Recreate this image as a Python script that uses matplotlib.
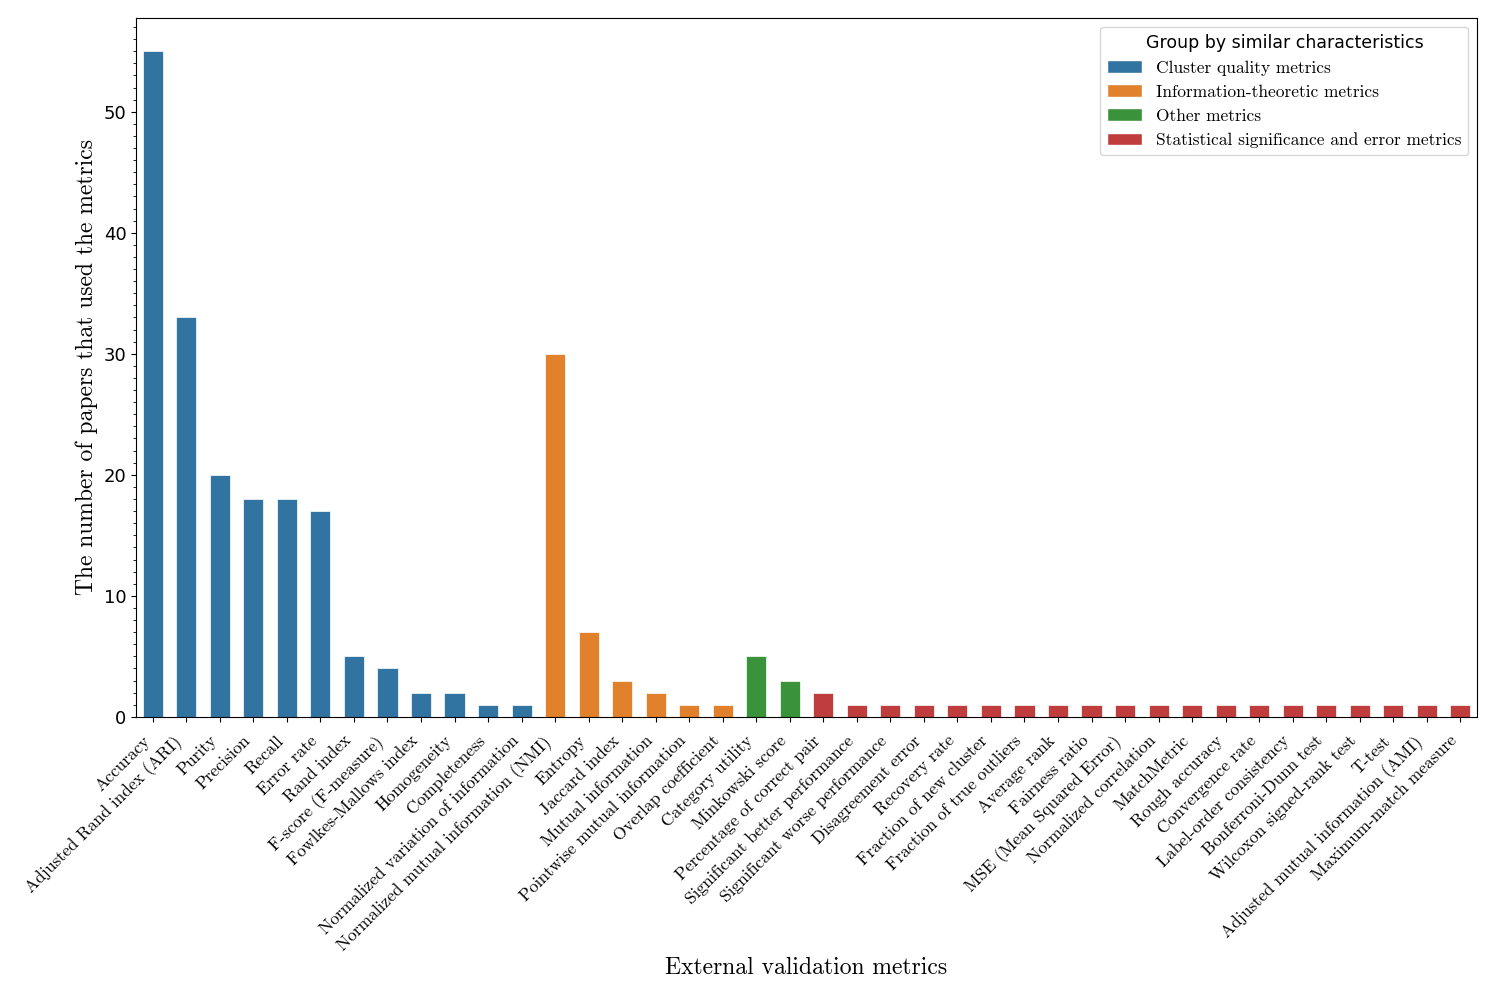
import numpy as np
import matplotlib
matplotlib.use("Agg")
import matplotlib.pyplot as plt
import seaborn as sns
from matplotlib.ticker import MultipleLocator
from matplotlib.patches import Patch

# metric names, counts and groups
metrics = [
    "Accuracy", "Adjusted Rand index (ARI)", "Purity", "Precision", "Recall",
    "Error rate", "Rand index", "F-score (F-measure)", "Fowlkes-Mallows index",
    "Homogeneity", "Completeness", "Normalized variation of information",
    "Normalized mutual information (NMI)", "Entropy", "Jaccard index",
    "Mutual information", "Pointwise mutual information", "Overlap coefficient",
    "Category utility", "Minkowski score", "Percentage of correct pair",
    "Significant better performance", "Significant worse performance",
    "Disagreement error", "Recovery rate", "Fraction of new cluster",
    "Fraction of true outliers", "Average rank", "Fairness ratio",
    "MSE (Mean Squared Error)", "Normalized correlation", "MatchMetric",
    "Rough accuracy", "Convergence rate", "Label-order consistency",
    "Bonferroni-Dunn test", "Wilcoxon signed-rank test", "T-test",
    "Adjusted mutual information (AMI)", "Maximum-match measure",
]
counts = [55, 33, 20, 18, 18, 17, 5, 4, 2, 2, 1, 1,
          30, 7, 3, 2, 1, 1,
          5, 3,
          2, 1, 1, 1, 1, 1, 1, 1, 1, 1, 1, 1, 1, 1, 1, 1, 1, 1, 1, 1]
groups = (["Cluster quality metrics"] * 12
          + ["Information-theoretic metrics"] * 6
          + ["Other metrics"] * 2
          + ["Statistical significance and error metrics"] * 20)
group_names = ["Cluster quality metrics", "Information-theoretic metrics",
               "Other metrics", "Statistical significance and error metrics"]

palette = sns.color_palette("tab10", 4, desat=0.75)
colors = {g: palette[i] for i, g in enumerate(group_names)}

serif = "cmr10"

fig, ax = plt.subplots(figsize=(14.95, 9.97), dpi=100)
fig.subplots_adjust(left=0.091, right=0.988, top=0.982, bottom=0.281)

x = np.arange(len(metrics))
ax.bar(x, counts, width=0.6, color=[colors[g] for g in groups],
       edgecolor="white", linewidth=0.5)

ax.set_xlim(-0.5, len(metrics) - 0.5)
ax.set_ylim(0, max(counts) * 1.05)
ax.set_xticks(x)
ax.set_xticklabels(metrics, rotation=45, ha="right", family=serif, fontsize=12.5)
ax.tick_params(axis="x", pad=8)
ax.yaxis.set_minor_locator(MultipleLocator(1))
ax.tick_params(axis="y", labelsize=13)

ax.set_xlabel("External validation metrics", family=serif, fontsize=17, labelpad=2)
ax.set_ylabel("The number of papers that used the metrics", family=serif, fontsize=17)

handles = [Patch(facecolor=colors[g], edgecolor="white", label=g) for g in group_names]
leg = ax.legend(handles=handles, title="Group by similar characteristics",
                loc="upper right", prop={"family": serif, "size": 12.5},
                title_fontsize=12.5)

fig.savefig("out.png", dpi=100)
